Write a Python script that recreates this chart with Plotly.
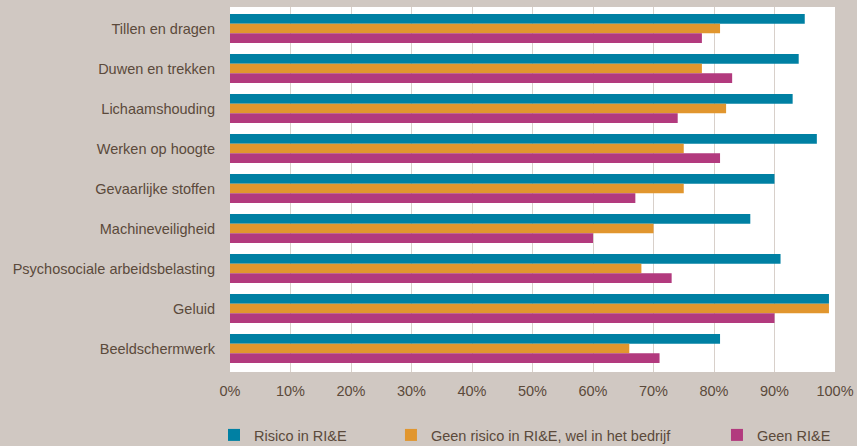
import plotly.graph_objects as go

categories = ["Tillen en dragen", "Duwen en trekken", "Lichaamshouding", "Werken op hoogte",
              "Gevaarlijke stoffen", "Machineveiligheid", "Psychosociale arbeidsbelasting",
              "Geluid", "Beeldschermwerk"]
risico_rie = [95, 94, 93, 97, 90, 86, 91, 99, 81]
geen_risico_wel_bedrijf = [81, 78, 82, 75, 75, 70, 68, 99, 66]
geen_rie = [78, 83, 74, 81, 67, 60, 73, 90, 71]
series_names = ["Risico in RI&E", "Geen risico in RI&E, wel in het bedrijf", "Geen RI&E"]
x_tickvals = [0, 10, 20, 30, 40, 50, 60, 70, 80, 90, 100]
x_ticktext = [f"{v}%" for v in x_tickvals]

colors = ["#0080a3", "#e1962e", "#b23a7e"]
FONT = "Liberation Sans, Arial, sans-serif"
FS = 14.5
TXT = "#5b4a3b"
BG = "#d0c8c2"

fig = go.Figure()
for i, (name, vals) in enumerate(zip(series_names, [risico_rie, geen_risico_wel_bedrijf, geen_rie])):
    fig.add_trace(go.Bar(
        y=categories, x=vals, orientation="h", name=name,
        marker=dict(color=colors[i], line=dict(width=0)),
        legend="legend" if i == 0 else f"legend{i+1}",
        showlegend=True,
    ))

leg_common = dict(orientation="h", yanchor="middle", y=0.0247, xanchor="left",
                  xref="container", yref="container",
                  font=dict(family=FONT, size=FS, color=TXT), bgcolor="rgba(0,0,0,0)",
                  borderwidth=0)

fig.update_layout(
    width=857, height=446,
    showlegend=True,
    margin=dict(l=230, r=22, t=7, b=74, autoexpand=False),
    paper_bgcolor=BG, plot_bgcolor="#ffffff",
    barmode="group", bargap=0.275, bargroupgap=0,
    font=dict(family=FONT, size=FS, color=TXT),
    xaxis=dict(range=[0, 100], tickvals=x_tickvals, ticktext=x_ticktext,
               showgrid=True, gridcolor="#d8d0ca", gridwidth=1,
               zeroline=False, showline=False, ticks="", automargin=False,
               ticklabelstandoff=8, tickfont=dict(family=FONT, size=FS, color=TXT),
               fixedrange=True),
    yaxis=dict(type="category", categoryorder="array", categoryarray=categories,
               range=[8.5875, -0.5375], showgrid=False, zeroline=False, showline=False,
               ticks="", ticklabelstandoff=14, automargin=False,
               tickfont=dict(family=FONT, size=FS, color=TXT)),
    legend=dict(**leg_common, x=0.2497),
    legend2=dict(**leg_common, x=0.4562),
    legend3=dict(**leg_common, x=0.8366),
)

fig.write_html("out.html", config={"displayModeBar": False},
               post_script="document.body.style.margin='0';document.body.style.padding='0';")
